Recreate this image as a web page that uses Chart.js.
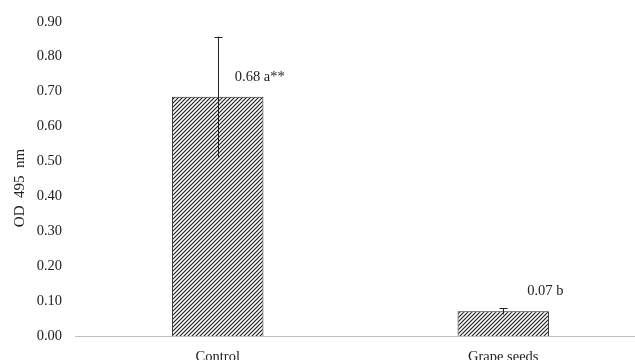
<!DOCTYPE html>
<html>
<head>
<meta charset="utf-8">
<script src="https://cdn.jsdelivr.net/npm/chart.js@4"></script>
<style>
  body { margin: 0; overflow: hidden; background: #fff; }
</style>
</head>
<body>
<canvas id="odChart" width="646" height="360"></canvas>
<script>
  const categories = ['Control', 'Grape seeds'];
  const odValues = [0.685, 0.071];
  const odErrors = [0.172, 0.009];
  const valueLabels = ['0.68 a**', '0.07 b'];
  const yTicks = [0, 0.1, 0.2, 0.3, 0.4, 0.5, 0.6, 0.7, 0.8, 0.9];
  const yTitle = 'OD  495  nm';

  // diagonal hatch fill like the excel pattern
  function hatch() {
    const p = document.createElement('canvas');
    p.width = 4;
    p.height = 4;
    const c = p.getContext('2d');
    c.fillStyle = '#fff';
    c.fillRect(0, 0, 4, 4);
    c.strokeStyle = '#222';
    c.lineWidth = 1.2;
    c.beginPath();
    c.moveTo(-1, 5); c.lineTo(5, -1);
    c.moveTo(-1, 1); c.lineTo(1, -1);
    c.moveTo(3, 5); c.lineTo(5, 3);
    c.stroke();
    return c.createPattern(p, 'repeat');
  }

  const ctx = document.getElementById('odChart').getContext('2d');

  const errorBars = {
    id: 'errorBars',
    afterDatasetsDraw(chart) {
      const c = chart.ctx;
      const y = chart.scales.y;
      const meta = chart.getDatasetMeta(0);
      c.save();
      c.strokeStyle = '#222';
      c.lineWidth = 1;
      meta.data.forEach((bar, i) => {
        const x = Math.round(bar.x) + 0.5;
        const top = y.getPixelForValue(odValues[i] + odErrors[i]);
        const bot = y.getPixelForValue(odValues[i] - odErrors[i]);
        c.beginPath();
        c.moveTo(x, top); c.lineTo(x, bot);
        c.moveTo(x - 4, Math.round(top) + 0.5); c.lineTo(x + 4, Math.round(top) + 0.5);
        c.stroke();
      });
      // value labels
      c.fillStyle = '#222';
      c.font = '14.5px "Liberation Serif"';
      c.textAlign = 'center';
      c.textBaseline = 'middle';
      meta.data.forEach((bar, i) => {
        c.fillText(valueLabels[i], bar.x + 42, bar.y - 20);
      });
      // y axis title, sits a bit below the middle in the original
      c.translate(20, 188);
      c.rotate(-Math.PI / 2);
      c.font = '15px "Liberation Serif"';
      c.fillText(yTitle, 0, 0);
      c.restore();
    }
  };

  new Chart(ctx, {
    type: 'bar',
    data: {
      labels: categories,
      datasets: [{
        data: odValues,
        backgroundColor: hatch(),
        borderColor: '#222',
        borderWidth: 1,
        barPercentage: 0.32,
        categoryPercentage: 1
      }]
    },
    options: {
      responsive: false,
      animation: false,
      layout: { padding: { top: 16, left: 13, right: 0, bottom: 0 } },
      plugins: {
        legend: { display: false },
        tooltip: { enabled: false }
      },
      scales: {
        x: {
          grid: { display: false, drawTicks: false },
          border: { color: '#bfbfbf' },
          ticks: { color: '#222', font: { family: 'Liberation Serif', size: 14.5 }, padding: 12 },
          afterFit: (axis) => { axis.height = 24; }
        },
        y: {
          min: 0,
          max: 0.9,
          afterBuildTicks: (axis) => { axis.ticks = yTicks.map(v => ({ value: v })); },
          afterFit: (axis) => { axis.width = 62; },
          grid: { display: false, drawTicks: false },
          border: { display: false },
          ticks: {
            color: '#222',
            font: { family: 'Liberation Serif', size: 14.5 },
            padding: 13,
            callback: (v) => Number(v).toFixed(2)
          }
        }
      }
    },
    plugins: [errorBars]
  });
</script>
</body>
</html>
